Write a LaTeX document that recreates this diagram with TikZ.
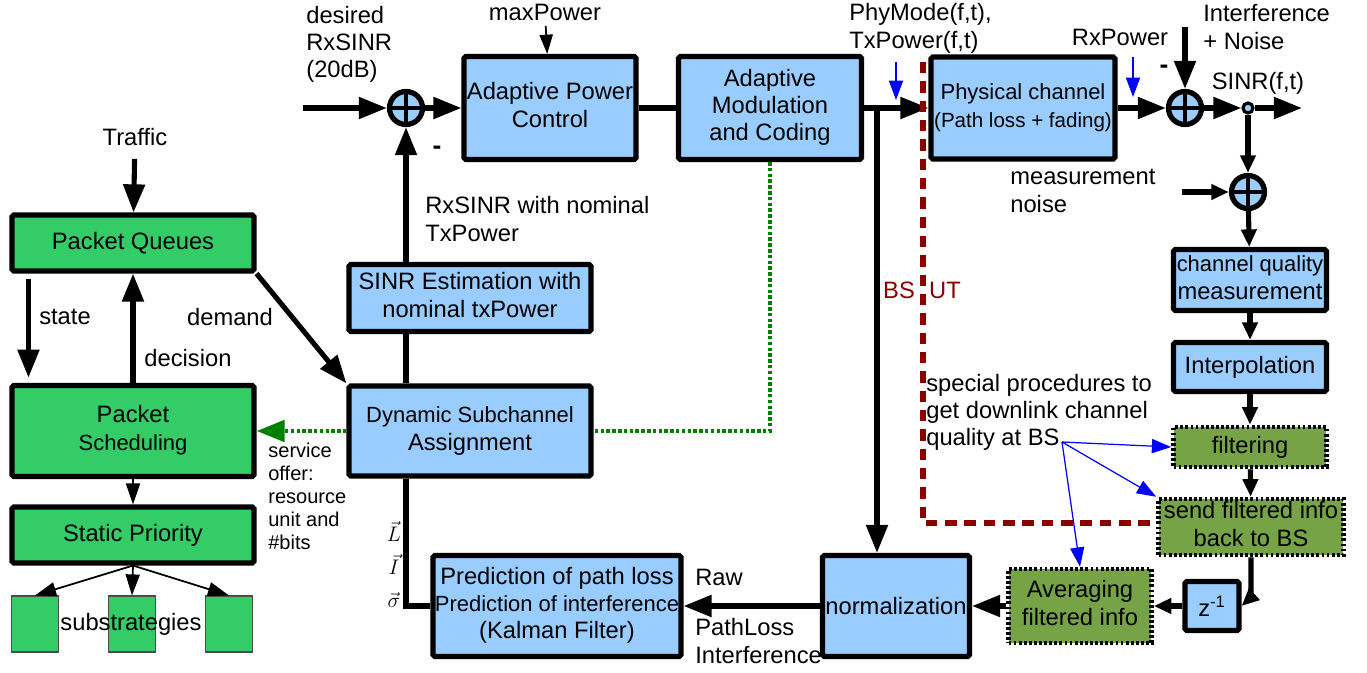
\documentclass[tikz,border=0pt]{standalone}
\usepackage{fontspec}
\setmainfont{Liberation Sans}
\usepackage{tikz}
\usetikzlibrary{shapes.geometric, arrows.meta}
\definecolor{lightblue}{HTML}{99CCFF}
\definecolor{leafgreen}{HTML}{33CC66}
\definecolor{olive}{HTML}{77A347}
\definecolor{darkred}{HTML}{8B0000}
\definecolor{dotgreen}{HTML}{008000}
\setlength{\tabcolsep}{0pt}
\tikzstyle{bluebox} = [rectangle, rounded corners=1pt, line width=2.9pt, draw=black, fill=lightblue, text centered, inner sep=0pt]
\tikzstyle{greenbox} = [rectangle, rounded corners=1pt, line width=2.9pt, draw=black, fill=leafgreen, text centered, inner sep=0pt]
\tikzstyle{subbox} = [rectangle, minimum width=0.94cm, minimum height=1.12cm, draw=black!70, line width=0.6pt, fill=leafgreen]
\tikzstyle{filterbox} = [rectangle, line width=2.6pt, draw=black, dash pattern=on 1.6pt off 1.3pt, fill=olive, text centered, inner sep=0pt]
\tikzstyle{sumnode} = [circle, minimum size=0.66cm, inner sep=0pt, line width=3pt, draw=black, fill=lightblue, path picture={\draw[line width=2.5pt] (path picture bounding box.north) -- (path picture bounding box.south) (path picture bounding box.west) -- (path picture bounding box.east);}]
\tikzstyle{tapnode} = [circle, minimum size=0.2cm, inner sep=0pt, line width=1.8pt, draw=black, fill=lightblue]
\tikzstyle{note} = [inner sep=0pt]
\tikzstyle{minus} = [inner sep=0pt, font=\fontsize{15}{15}\selectfont\bfseries]
\tikzstyle{arrow} = [line width=2.9pt, ->, >={Triangle[length=16pt, width=12pt]}]
\tikzstyle{midarrow} = [line width=2.9pt, ->, >={Triangle[length=10pt, width=8.5pt]}]
\tikzstyle{smallarrow} = [line width=1pt, ->, >={Triangle[length=11pt, width=7.5pt]}]
\tikzstyle{thinarrow} = [line width=1pt, ->, >={Triangle[length=12pt, width=8pt]}]
\tikzstyle{infoarrow} = [line width=0.7pt, blue, ->, >={Triangle[length=11pt, width=8pt]}]
\tikzstyle{plainline} = [line width=2.9pt]
\tikzstyle{offerline} = [line width=2.8pt, dotgreen, dash pattern=on 2pt off 1.3pt]
\tikzstyle{bsline} = [line width=3.2pt, darkred, dash pattern=on 6.5pt off 4.5pt]

\begin{document}
\begin{tikzpicture}[x=0.02cm, y=-0.02cm, font=\fontsize{13.5}{15.5}\selectfont]
  \useasboundingbox (0,0) rectangle (1367,673);

  % scheduler side
  \node (traffic) at (135,137) {Traffic};
  \node (queues) [greenbox, minimum width=4.84cm, minimum height=1.12cm] at (133,243) {Packet Queues};
  \node (sched) [greenbox, minimum width=4.84cm, minimum height=1.82cm] at (133,431) {\begin{tabular}{c} Packet \\ \fontsize{12.5}{15.5}\selectfont Scheduling \end{tabular}};
  \node (prio) [greenbox, minimum width=4.84cm, minimum height=1.12cm] at (133,535) {Static Priority};
  \node (sub1) [subbox] at (35,624) {};
  \node (sub2) [subbox] at (132,624) {};
  \node (sub3) [subbox] at (229,624) {};
  \node (subs) [note] at (131,624) {substrategies};
  \node (state) [note] at (65,317) {state};
  \node (decision) [note] at (188,358) {decision};
  \node (demand) [note] at (230,317) {demand};
  \node (offer) [note, anchor=west, font=\fontsize{11.4}{13}\selectfont] at (268,499) {\begin{tabular}{l} service \\ offer: \\ resource \\ unit and \\ \#bits \end{tabular}};

  % power control loop
  \node (desired) [note, anchor=west] at (306,45) {\begin{tabular}{l} desired \\ RxSINR \\ (20dB) \end{tabular}};
  \node (sum1) [sumnode] at (406,108) {};
  \node (minus1) [minus] at (437,150) {-};
  \node (maxp) [note] at (545,12) {maxPower};
  \node (apc) [bluebox, minimum width=3.44cm, minimum height=2.06cm] at (550,108) {\begin{tabular}{c} Adaptive Power \\ Control \end{tabular}};
  \node (amc) [bluebox, minimum width=3.66cm, minimum height=2.06cm] at (770,108) {\begin{tabular}{c} Adaptive \\ Modulation \\ and Coding \end{tabular}};
  \node (rxsinr) [note, anchor=west] at (425,222) {\begin{tabular}{l} RxSINR with nominal \\ TxPower \end{tabular}};
  \node (est) [bluebox, minimum width=4.84cm, minimum height=1.34cm] at (470,298) {\begin{tabular}{c} SINR Estimation with \\ nominal txPower \end{tabular}};
  \node (dsa) [bluebox, minimum width=4.84cm, minimum height=1.8cm] at (470,431) {\begin{tabular}{c} \fontsize{12.5}{15.5}\selectfont Dynamic Subchannel \\ Assignment \end{tabular}};
  \node (vecs) [note, font=\fontsize{12}{18.8}\selectfont] at (394,568) {\begin{tabular}{c} $\vec{L}$ \\ $\vec{I}$ \\ $\vec{\sigma}$ \end{tabular}};
  \node (pred) [bluebox, minimum width=4.96cm, minimum height=2.02cm] at (557,606) {\begin{tabular}{c} Prediction of path loss \\ \fontsize{12.5}{15.5}\selectfont Prediction of interference \\ (Kalman Filter) \end{tabular}};
  \node (raw) [note, anchor=west] at (695,577) {Raw};
  \node (pathloss) [note, anchor=west] at (695,644) {\begin{tabular}{l} PathLoss \\ Interference \end{tabular}};
  \node (norm) [bluebox, minimum width=2.94cm, minimum height=2.02cm] at (896,606) {normalization};

  % channel and terminal side
  \node (phymode) [note, anchor=west] at (849,29) {\begin{tabular}{l} PhyMode(f,t), \\ TxPower(f,t) \end{tabular}};
  \node (phy) [bluebox, minimum width=3.68cm, minimum height=2.04cm] at (1023,108) {\begin{tabular}{c} \fontsize{12.5}{15}\selectfont Physical channel \\ \fontsize{11.7}{14}\selectfont (Path loss + fading) \end{tabular}};
  \node (rxpower) [note] at (1120,37) {RxPower};
  \node (intnoise) [note, anchor=west] at (1203,30) {\begin{tabular}{l} Interference \\ + Noise \end{tabular}};
  \node (minus2) [minus] at (1164,69) {-};
  \node (sum2) [sumnode] at (1185,108) {};
  \node (tap) [tapnode] at (1248,108) {};
  \node (sinrft) [note] at (1258,83) {SINR(f,t)};
  \node (sum3) [sumnode] at (1248,192) {};
  \node (measnoise) [note, anchor=west] at (1010,193) {\begin{tabular}{l} measurement \\ noise \end{tabular}};
  \node (cqm) [bluebox, minimum width=3.06cm, minimum height=1.22cm] at (1250,280) {\begin{tabular}{c} \fontsize{12.5}{15.5}\selectfont channel quality \\ measurement \end{tabular}};
  \node (interp) [bluebox, minimum width=3.06cm, minimum height=0.98cm] at (1250,367) {Interpolation};
  \node (filt) [filterbox, minimum width=3.06cm, minimum height=0.8cm] at (1250,447) {filtering};
  \node (send) [filterbox, minimum width=3.7cm, minimum height=1.12cm] at (1251,527) {\begin{tabular}{c} send filtered info \\ back to BS \end{tabular}};
  \node (delay) [bluebox, minimum width=1.08cm, minimum height=0.98cm] at (1212,606) {z\textsuperscript{-1}};
  \node (avg) [filterbox, minimum width=2.86cm, minimum height=1.48cm] at (1080,606) {\begin{tabular}{c} Averaging \\ filtered info \end{tabular}};
  \node (bs) [note, text=darkred] at (899,290) {BS};
  \node (ut) [note, text=darkred] at (945,290) {UT};
  \node (special) [note, anchor=west] at (926,413) {\begin{tabular}{l} special procedures to \\ get downlink channel \\ quality at BS \end{tabular}};

  \coordinate (in) at (303,108);
  \coordinate (split) at (877,108);
  \coordinate (out) at (1302,108);
  \coordinate (noisein) at (1185,27);
  \coordinate (measin) at (1182,192);
  \coordinate (txmark) at (896,100);
  \coordinate (rxmark) at (1133,97);
  \coordinate (bstop) at (923,62);
  \coordinate (bscorner) at (923,523);
  \coordinate (bsq) at (1062,442);

  \draw [arrow, shorten <=4pt] (traffic) -- (queues);
  \draw [arrow, shorten <=3pt, shorten >=3pt] ([xshift=0.38cm]queues.south west) -- ([xshift=0.38cm]sched.north west);
  \draw [arrow] (sched) -- (queues);
  \draw [arrow] (queues.south east) -- (dsa.north west);
  \draw [thinarrow] (sched) -- (prio);
  \draw [thinarrow] (prio.south) -- (sub1.north);
  \draw [thinarrow] (prio.south) -- (sub2.north);
  \draw [thinarrow] (prio.south) -- (sub3.north);

  \draw [arrow] (in) -- (sum1);
  \draw [arrow] (sum1) -- (apc);
  \draw [smallarrow, shorten <=3pt] (maxp) -- (apc);
  \draw [plainline] (apc) -- (amc);
  \draw [arrow] (amc) -- (phy);
  \draw [arrow] (split) -- (split |- norm.north);
  \draw [infoarrow] ([yshift=0.76cm]txmark) -- (txmark);
  \draw [arrow] (sum1 |- est.north) -- (sum1);
  \draw [plainline] (sum1 |- dsa.north) -- (sum1 |- est.south);
  \draw [plainline] (sum1 |- dsa.south) |- (pred.west);
  \draw [offerline] (amc.south) |- (dsa.east);
  \draw [arrow, offerline] (dsa.west) -- (sched.east);
  \draw [arrow] (norm) -- (pred);

  \draw [arrow] (phy) -- (sum2);
  \draw [infoarrow] ([yshift=0.8cm]rxmark) -- (rxmark);
  \draw [arrow] (noisein) -- (sum2);
  \draw [arrow] (sum2) -- (tap);
  \draw [arrow] (tap) -- (out);
  \draw [midarrow] (tap) -- (sum3);
  \draw [midarrow] (measin) -- (sum3);
  \draw [midarrow] (sum3) -- (cqm);
  \draw [midarrow] (cqm) -- (interp);
  \draw [midarrow] (interp) -- (filt);
  \draw [midarrow] (filt) -- (send);
  \draw [midarrow] (send.south) -- ++(0,40) -- (delay.east);
  \draw [midarrow] (delay) -- (avg);
  \draw [arrow] (avg) -- (norm);

  \draw [bsline] (bstop) -- (bscorner) -- (bscorner -| send.west);
  \draw [infoarrow] (bsq) -- (filt.west);
  \draw [infoarrow] (bsq) -- (send.north west);
  \draw [infoarrow] (bsq) -- (avg.north);
\end{tikzpicture}
\end{document}
